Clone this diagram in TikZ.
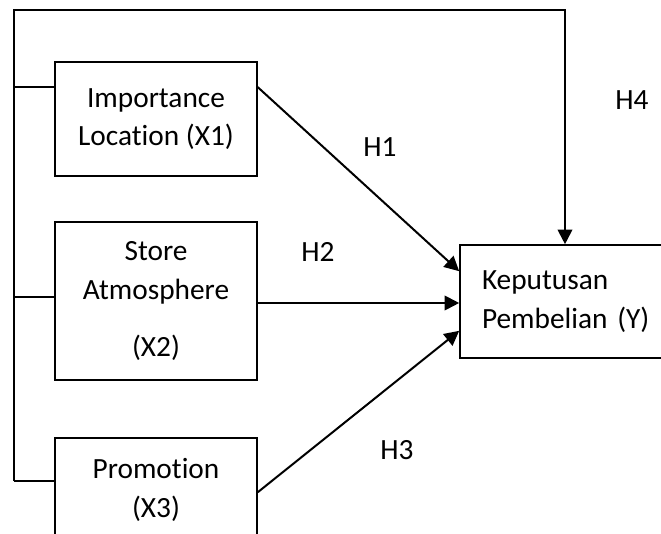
\documentclass[tikz,border=0pt]{standalone}
\usepackage{fontspec}
\setmainfont[Ligatures=NoCommon]{Carlito}
\usetikzlibrary{arrows.meta}
\tikzstyle{varbox} = [rectangle, draw, line width=1.2pt, minimum width=151.5pt, text centered, align=center, font=\fontsize{22}{29}\selectfont]
\tikzstyle{hyplabel} = [font=\fontsize{22}{29}\selectfont]
\tikzstyle{line} = [line width=1.5pt]
\tikzstyle{arrow} = [line width=1.5pt, -{Triangle[length=11pt, width=11pt]}]

\begin{document}
\begin{tikzpicture}[x=0.75pt, y=-0.75pt]
            \useasboundingbox (0,0) rectangle (661,534);
            \clip (0,0) rectangle (661,534);

            \node [varbox, minimum height=85.5pt] at (156,119) (x1) {Importance\\Location (X1)};
            \node [varbox, minimum height=118.5pt] at (156,301) (x2) {Store\\Atmosphere\\[14pt](X2)};
            \node [varbox, minimum height=78pt] at (156,490) (x3) {Promotion\\(X3)};
            \node [varbox, minimum width=180pt, minimum height=84.75pt, text width=147pt, align=left] at (580,301.5) (y) {Keputusan\\Pembelian (Y)};

            \node [hyplabel] at (380,147) (h1) {H1};
            \node [hyplabel] at (318,252) (h2) {H2};
            \node [hyplabel] at (397,450) (h3) {H3};
            \node [hyplabel] at (632,100) (h4) {H4};

            \coordinate (corner) at (14,10);
            \coordinate (b1) at ([yshift=-19.5pt]x1.north west);
            \coordinate (b2) at ([yshift=3pt]x2.west);
            \coordinate (b3) at ([yshift=-33pt]x3.north west);

            \draw [line] (b1) -- (b1 -| corner);
            \draw [line] (b2) -- (b2 -| corner);
            \draw [line] (b3) -- (b3 -| corner);
            \draw [arrow] (b3 -| corner) -- (corner) -| ([xshift=-11.25pt]y.north);

            \draw [arrow] ([yshift=-19.5pt]x1.north east) -- ([yshift=-20.25pt]y.north west);
            \draw [arrow] ([yshift=-1.5pt]x2.east) -- ([yshift=-1.5pt]x2.east -| y.west);
            \draw [arrow] ([yshift=-41.25pt]x3.north east) -- ([yshift=21pt]y.south west);
\end{tikzpicture}
\end{document}
